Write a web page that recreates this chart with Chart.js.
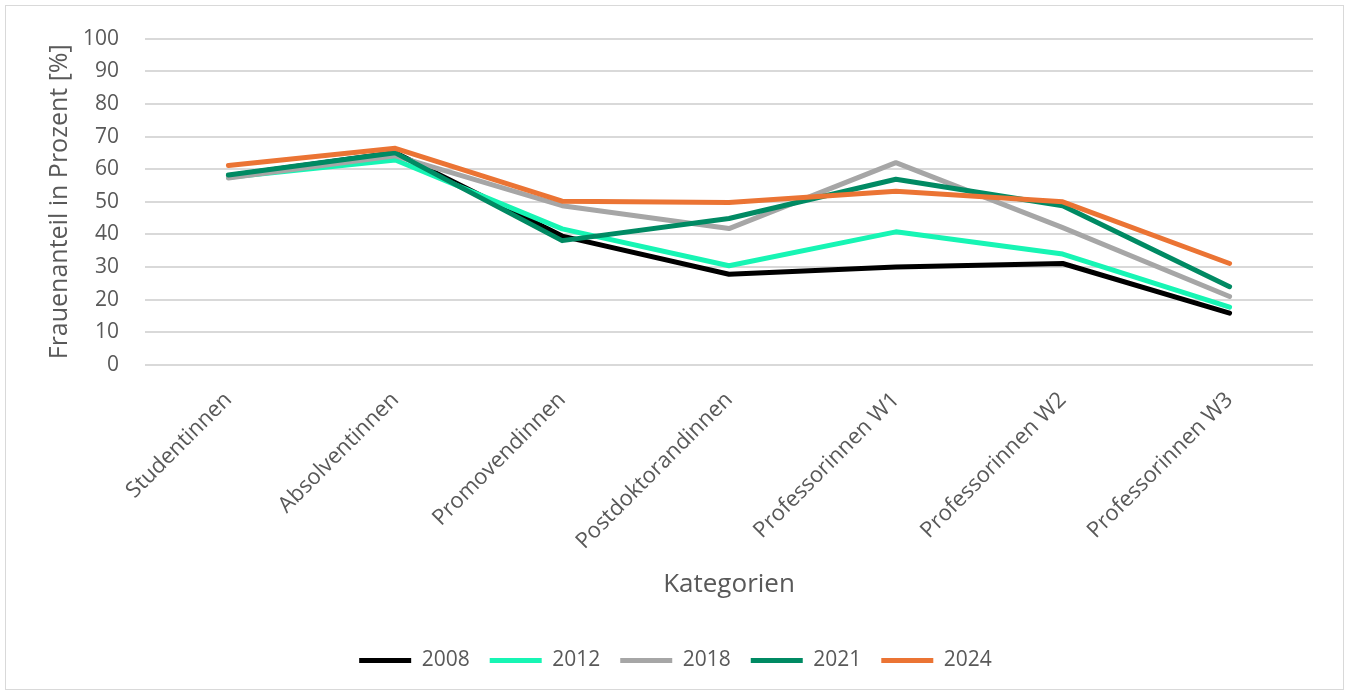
<!DOCTYPE html>
<html>
<head>
<meta charset="utf-8">
<script src="https://cdn.jsdelivr.net/npm/chart.js@4/dist/chart.umd.min.js"></script>
<style>
  html, body { margin: 0; padding: 0; background: #fff; }
  #wrap { position: relative; width: 1351px; height: 695px; }
  #frame { position: absolute; left: 5px; top: 5px; width: 1337px; height: 683px; border: 1px solid #d9d9d9; pointer-events: none; }
  canvas { position: absolute; left: 0; top: 0; }
</style>
</head>
<body>
<div id="wrap">
  <canvas id="c" width="1351" height="695"></canvas>
  <div id="frame"></div>
</div>
<script>
const categories = ["Studentinnen", "Absolventinnen", "Promovendinnen", "Postdoktorandinnen", "Professorinnen W1", "Professorinnen W2", "Professorinnen W3"];
const years = ["2008", "2012", "2018", "2021", "2024"];
const v2008 = [58, 65, 39.5, 27.8, 30, 31.1, 15.9];
const v2012 = [57.5, 62.8, 41.7, 30.4, 40.8, 34, 17.7];
const v2018 = [57.3, 64.1, 48.8, 41.8, 62, 42.1, 21];
const v2021 = [58.2, 65, 38.1, 44.9, 56.9, 48.8, 24];
const v2024 = [61.1, 66.4, 50.2, 49.8, 53.2, 50, 31.1];
const colors = ["#000000", "#17F5B4", "#A6A6A6", "#008A63", "#EB7434"];
const series = [v2008, v2012, v2018, v2021, v2024];
const yTicks = [0, 10, 20, 30, 40, 50, 60, 70, 80, 90, 100];

const FONT = "'Open Sans'";
const TXT = "#595959";

const datasets = series.map((vals, i) => ({
  label: years[i],
  data: vals,
  borderColor: colors[i],
  backgroundColor: colors[i],
  borderWidth: 5,
  borderCapStyle: 'round',
  borderJoinStyle: 'round',
  pointRadius: 0,
  pointHoverRadius: 0,
  tension: 0,
  fill: false,
  order: series.length - i
}));

new Chart(document.getElementById('c'), {
  type: 'line',
  data: { labels: categories, datasets },
  options: {
    responsive: false,
    animation: false,
    layout: { padding: { left: 0, right: 0, top: 34, bottom: 14 } },
    plugins: {
      legend: {
        position: 'bottom',
        labels: {
          usePointStyle: true,
          pointStyle: 'line',
          pointStyleWidth: 52,
          color: TXT,
          font: { family: FONT, size: 21 },
          padding: 20,
          sort: (a, b) => a.datasetIndex - b.datasetIndex
        }
      },
      tooltip: { enabled: false }
    },
    scales: {
      x: {
        offset: true,
        grid: { display: false, drawTicks: false },
        border: { display: false },
        ticks: {
          minRotation: 45, maxRotation: 45, autoSkip: false,
          color: TXT, font: { family: FONT, size: 22 }, padding: 22
        },
        title: { display: true, text: 'Kategorien', color: TXT, font: { family: FONT, size: 26 }, padding: { top: 0, bottom: 30 } },
        afterFit: (s) => { s.height = 265; }
      },
      y: {
        min: 0, max: 100,
        afterBuildTicks: (s) => { s.ticks = yTicks.map(v => ({ value: v })); },
        grid: { color: '#d9d9d9', lineWidth: 2, drawTicks: false },
        border: { display: false },
        ticks: { color: TXT, font: { family: FONT, size: 21 }, padding: 26 },
        title: { display: true, text: 'Frauenanteil in Prozent [%]', color: TXT, font: { family: FONT, size: 25 }, padding: { top: 45, bottom: 0 } },
        afterFit: (s) => { s.width = 145; }
      },
      yRight: {
        position: 'right',
        display: true,
        grid: { display: false, drawTicks: false },
        border: { display: false },
        ticks: { display: false },
        afterFit: (s) => { s.width = 38; }
      }
    }
  }
});
</script>
</body>
</html>
